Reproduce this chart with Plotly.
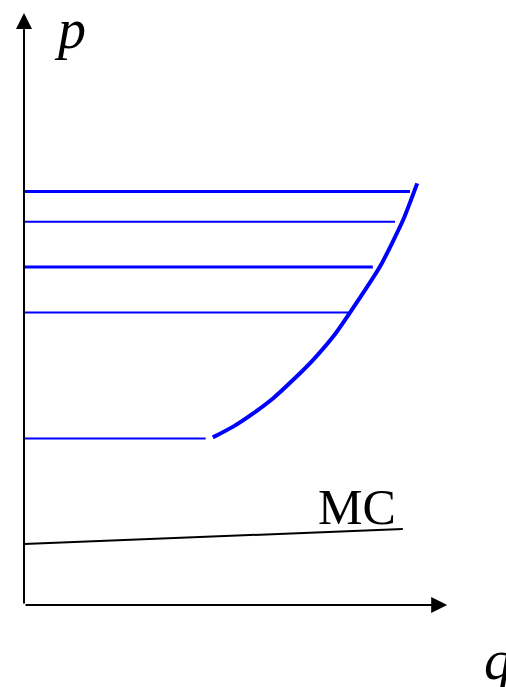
import plotly.graph_objects as go

# ---- data (q = quantity, p = price) ----
price_levels = [10.34, 9.58, 8.45, 7.31, 4.16]
price_line_ends = [9.65, 9.275, 8.72, 8.15, 4.54]
price_line_widths = [3, 2, 3, 2, 2]

supply_q = [4.72, 5.23, 5.73, 6.23, 6.73, 7.23, 7.73, 8.15, 8.90, 9.48, 9.83]
supply_p = [4.19, 4.46, 4.79, 5.17, 5.63, 6.13, 6.71, 7.31, 8.46, 9.63, 10.54]

mc_q = [0.0, 9.47]
mc_p = [1.525, 1.90]

Q_AXIS_MAX = 10.58
P_AXIS_MAX = 14.8

BLUE = "#0000FF"
SERIF = "Liberation Serif, Times New Roman, serif"

fig = go.Figure()

for lvl, end, w in zip(price_levels, price_line_ends, price_line_widths):
    fig.add_trace(go.Scatter(x=[0, end], y=[lvl, lvl], mode="lines",
                             line=dict(color=BLUE, width=w), hoverinfo="skip"))

fig.add_trace(go.Scatter(x=supply_q, y=supply_p, mode="lines",
                         line=dict(color=BLUE, width=4, shape="spline", smoothing=0.6),
                         hoverinfo="skip"))

fig.add_trace(go.Scatter(x=mc_q, y=mc_p, mode="lines",
                         line=dict(color="black", width=2), hoverinfo="skip"))

# axes with arrows
fig.add_annotation(x=0, y=P_AXIS_MAX, ax=0, ay=0, xref="x", yref="y", axref="x", ayref="y",
                   showarrow=True, arrowhead=2, arrowsize=1.6, arrowwidth=2,
                   arrowcolor="black", text="")
fig.add_annotation(x=Q_AXIS_MAX, y=0, ax=0, ay=0, xref="x", yref="y", axref="x", ayref="y",
                   showarrow=True, arrowhead=2, arrowsize=1.6, arrowwidth=2,
                   arrowcolor="black", text="")

# labels
fig.add_annotation(x=1.15, y=14.4, text="<i>p</i>", showarrow=False,
                   font=dict(family=SERIF, size=56, color="black"))
fig.add_annotation(x=11.85, y=-1.38, text="<i>q</i>", showarrow=False,
                   font=dict(family=SERIF, size=56, color="black"))
fig.add_annotation(x=8.33, y=2.45, text="MC", showarrow=False,
                   font=dict(family=SERIF, size=50, color="black"))

fig.update_xaxes(range=[-24 / 40, (506 - 24) / 40], visible=False, showgrid=False, zeroline=False)
fig.update_yaxes(range=[(605 - 687) / 40, 605 / 40], visible=False, showgrid=False, zeroline=False)
fig.update_layout(width=506, height=687, margin=dict(l=0, r=0, t=0, b=0),
                  paper_bgcolor="white", plot_bgcolor="white", showlegend=False)

fig.write_html("out.html", config={"displayModeBar": False},
               post_script="document.body.style.margin='0';document.body.style.overflow='hidden';")
